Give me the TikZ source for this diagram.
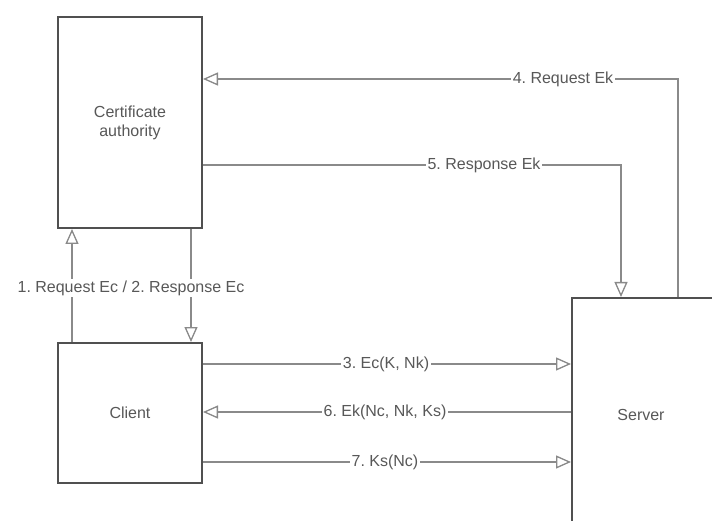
\documentclass[tikz,border=0pt]{standalone}
\usepackage{fontspec}
\setmainfont{Liberation Sans}
\usetikzlibrary{arrows.meta}
\definecolor{linegray}{HTML}{8A8A8A}
\definecolor{boxgray}{HTML}{505050}
\definecolor{txtgray}{HTML}{585858}
\tikzset{
  box/.style={draw=boxgray, line width=2pt, fill=white, inner sep=0pt, anchor=north west},
  conn/.style={draw=linegray, line width=1.3pt, -{Triangle[open, length=15pt, width=13pt, fill=white]}},
  lbl/.style={fill=white, inner sep=2pt, text=txtgray, font=\fontsize{16}{18}\selectfont},
  boxtxt/.style={text=txtgray, font=\fontsize{16}{19}\selectfont, align=center}
}
\frenchspacing
\begin{document}
\begin{tikzpicture}[x=1pt,y=-1pt]
\useasboundingbox (0,0) rectangle (712,521);
\clip (0,0) rectangle (712,521);
% boxes
\node[box, minimum width=144pt, minimum height=211pt] (ca) at (57,16) {};
\node[box, minimum width=144pt, minimum height=140pt] (client) at (57,342) {};
\node[box, minimum width=170pt, minimum height=250pt] (server) at (571,297) {};
\node[boxtxt] (catxt) at (ca.center) {Certificate\\authority};
\node[boxtxt] (clienttxt) at (client.center) {Client};
\node[boxtxt] (servertxt) at (641,415) {Server};
% connectors
\draw[conn] (server.north west -| 678,0) |- (ca.east |- 0,79);
\draw[conn] (ca.east |- 0,165) -| (server.north west -| 621,0);
\draw[conn] (client.north west -| 72,0) -- (ca.south west -| 72,0);
\draw[conn] (ca.south west -| 191,0) -- (client.north west -| 191,0);
\draw[conn] (client.east |- 0,364) -- (server.west |- 0,364);
\draw[conn] (server.west |- 0,412) -- (client.east |- 0,412);
\draw[conn] (client.east |- 0,462) -- (server.west |- 0,462);
% labels
\node[lbl] (l4) at (563,79) {4. Request Ek};
\node[lbl] (l5) at (484,165) {5. Response Ek};
\node[lbl] (l12) at (131,288) {1. Request Ec / 2. Response Ec};
\node[lbl] (l3) at (386,364) {3. Ec(K, Nk)};
\node[lbl] (l6) at (385,412) {6. Ek(Nc, Nk, Ks)};
\node[lbl] (l7) at (385,462) {7. Ks(Nc)};
\end{tikzpicture}
\end{document}
